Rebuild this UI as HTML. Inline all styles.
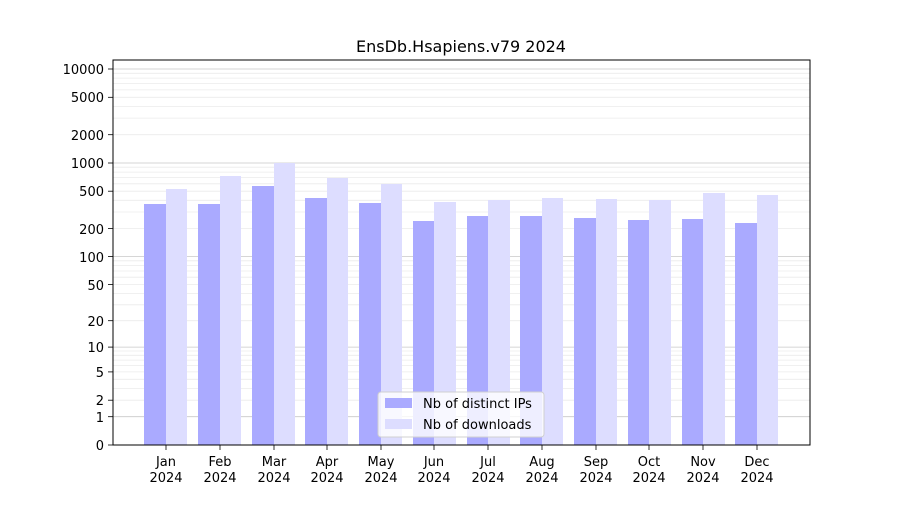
<!DOCTYPE html>
<html><head><meta charset="utf-8"><style>
body{margin:0;background:#fff;}
svg text{font-family:"DejaVu Sans","Liberation Sans",sans-serif;fill:#000;}
</style></head><body>
<svg width="900" height="500" xmlns="http://www.w3.org/2000/svg">
<rect width="900" height="500" fill="#fff"/>
<g stroke="#ebebeb" stroke-width="0.8">
<line x1="113" x2="810" y1="400.2" y2="400.2"/><line x1="113" x2="810" y1="388.4" y2="388.4"/><line x1="113" x2="810" y1="379.3" y2="379.3"/><line x1="113" x2="810" y1="371.9" y2="371.9"/><line x1="113" x2="810" y1="365.6" y2="365.6"/><line x1="113" x2="810" y1="360.1" y2="360.1"/><line x1="113" x2="810" y1="355.3" y2="355.3"/><line x1="113" x2="810" y1="351" y2="351"/>
<line x1="113" x2="810" y1="320.7" y2="320.7"/><line x1="113" x2="810" y1="304.8" y2="304.8"/><line x1="113" x2="810" y1="293.4" y2="293.4"/><line x1="113" x2="810" y1="284.5" y2="284.5"/><line x1="113" x2="810" y1="277.2" y2="277.2"/><line x1="113" x2="810" y1="271" y2="271"/><line x1="113" x2="810" y1="265.6" y2="265.6"/><line x1="113" x2="810" y1="260.8" y2="260.8"/>
<line x1="113" x2="810" y1="228.5" y2="228.5"/><line x1="113" x2="810" y1="212" y2="212"/><line x1="113" x2="810" y1="200.3" y2="200.3"/><line x1="113" x2="810" y1="191.2" y2="191.2"/><line x1="113" x2="810" y1="183.8" y2="183.8"/><line x1="113" x2="810" y1="177.5" y2="177.5"/><line x1="113" x2="810" y1="172.1" y2="172.1"/><line x1="113" x2="810" y1="167.2" y2="167.2"/>
<line x1="113" x2="810" y1="134.7" y2="134.7"/><line x1="113" x2="810" y1="118.1" y2="118.1"/><line x1="113" x2="810" y1="106.4" y2="106.4"/><line x1="113" x2="810" y1="97.3" y2="97.3"/><line x1="113" x2="810" y1="89.9" y2="89.9"/><line x1="113" x2="810" y1="83.6" y2="83.6"/><line x1="113" x2="810" y1="78.1" y2="78.1"/><line x1="113" x2="810" y1="73.3" y2="73.3"/>
</g>
<g stroke="#c8c8c8" stroke-width="0.8">
<line x1="113" x2="810" y1="416.7" y2="416.7"/><line x1="113" x2="810" y1="347.1" y2="347.1"/><line x1="113" x2="810" y1="256.6" y2="256.6"/><line x1="113" x2="810" y1="163" y2="163"/><line x1="113" x2="810" y1="69" y2="69"/>
</g>
<g fill="#aaaaff">
<rect x="144" y="204" width="22" height="241"/><rect x="198" y="204" width="22" height="241"/><rect x="252" y="186" width="22" height="259"/><rect x="305" y="198" width="22" height="247"/><rect x="359" y="203" width="22" height="242"/><rect x="413" y="221" width="21" height="224"/><rect x="467" y="216" width="21" height="229"/><rect x="520" y="216" width="22" height="229"/><rect x="574" y="218" width="22" height="227"/><rect x="628" y="220" width="21" height="225"/><rect x="682" y="219" width="21" height="226"/><rect x="735" y="223" width="22" height="222"/>
</g>
<g fill="#ddddff">
<rect x="166" y="189" width="21" height="256"/><rect x="220" y="176" width="21" height="269"/><rect x="274" y="163" width="21" height="282"/><rect x="327" y="178" width="21" height="267"/><rect x="381" y="184" width="21" height="261"/><rect x="434" y="202" width="22" height="243"/><rect x="488" y="200" width="22" height="245"/><rect x="542" y="198" width="21" height="247"/><rect x="596" y="199" width="21" height="246"/><rect x="649" y="200" width="22" height="245"/><rect x="703" y="193" width="22" height="252"/><rect x="757" y="195" width="21" height="250"/>
</g>
<rect x="113" y="60" width="697" height="385" fill="none" stroke="#000" stroke-width="1"/>
<g stroke="#000" stroke-width="0.8">
<line x1="108" x2="113" y1="445" y2="445"/><line x1="108" x2="113" y1="416.7" y2="416.7"/><line x1="108" x2="113" y1="400.2" y2="400.2"/><line x1="108" x2="113" y1="371.9" y2="371.9"/><line x1="108" x2="113" y1="347.1" y2="347.1"/><line x1="108" x2="113" y1="320.7" y2="320.7"/><line x1="108" x2="113" y1="284.5" y2="284.5"/><line x1="108" x2="113" y1="256.6" y2="256.6"/><line x1="108" x2="113" y1="228.5" y2="228.5"/><line x1="108" x2="113" y1="191.2" y2="191.2"/><line x1="108" x2="113" y1="163" y2="163"/><line x1="108" x2="113" y1="134.7" y2="134.7"/><line x1="108" x2="113" y1="97.3" y2="97.3"/><line x1="108" x2="113" y1="69" y2="69"/>
<line x1="166" x2="166" y1="445" y2="450"/><line x1="220" x2="220" y1="445" y2="450"/><line x1="274" x2="274" y1="445" y2="450"/><line x1="327" x2="327" y1="445" y2="450"/><line x1="381" x2="381" y1="445" y2="450"/><line x1="434" x2="434" y1="445" y2="450"/><line x1="488" x2="488" y1="445" y2="450"/><line x1="542" x2="542" y1="445" y2="450"/><line x1="596" x2="596" y1="445" y2="450"/><line x1="649" x2="649" y1="445" y2="450"/><line x1="703" x2="703" y1="445" y2="450"/><line x1="757" x2="757" y1="445" y2="450"/>
</g>
<g font-size="13" text-anchor="end">
<text x="104" y="450">0</text><text x="104" y="422">1</text><text x="104" y="405">2</text><text x="104" y="377">5</text><text x="104" y="352">10</text><text x="104" y="326">20</text><text x="104" y="290">50</text><text x="104" y="262">100</text><text x="104" y="234">200</text><text x="104" y="196">500</text><text x="104" y="168">1000</text><text x="104" y="140">2000</text><text x="104" y="102">5000</text><text x="104" y="74">10000</text>
</g>
<g font-size="13" text-anchor="middle">
<text x="166" y="466">Jan</text><text x="166" y="482">2024</text>
<text x="220" y="466">Feb</text><text x="220" y="482">2024</text>
<text x="274" y="466">Mar</text><text x="274" y="482">2024</text>
<text x="327" y="466">Apr</text><text x="327" y="482">2024</text>
<text x="381" y="466">May</text><text x="381" y="482">2024</text>
<text x="434" y="466">Jun</text><text x="434" y="482">2024</text>
<text x="488" y="466">Jul</text><text x="488" y="482">2024</text>
<text x="542" y="466">Aug</text><text x="542" y="482">2024</text>
<text x="596" y="466">Sep</text><text x="596" y="482">2024</text>
<text x="649" y="466">Oct</text><text x="649" y="482">2024</text>
<text x="703" y="466">Nov</text><text x="703" y="482">2024</text>
<text x="757" y="466">Dec</text><text x="757" y="482">2024</text>
<text x="461" y="52" font-size="16">EnsDb.Hsapiens.v79 2024</text>
</g>
<rect x="378" y="392" width="166" height="45" rx="3" fill="#fff" fill-opacity="0.8" stroke="#d0d0d0"/>
<rect x="385" y="398" width="27" height="10" fill="#aaaaff"/>
<rect x="385" y="419" width="27" height="10" fill="#ddddff"/>
<text x="423" y="408" font-size="13">Nb of distinct IPs</text>
<text x="423" y="429" font-size="13">Nb of downloads</text>
</svg>
</body></html>
